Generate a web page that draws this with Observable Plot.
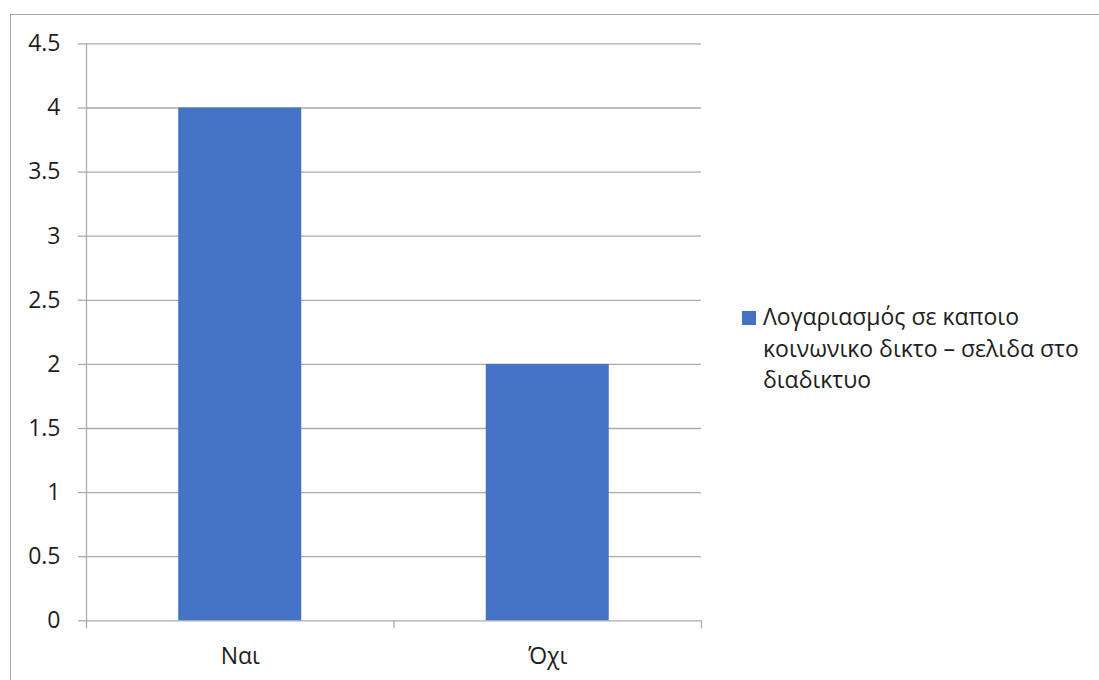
<!DOCTYPE html>
<html lang="el">
<head>
<meta charset="utf-8">
<script src="https://cdn.jsdelivr.net/npm/d3@7"></script>
<script src="https://cdn.jsdelivr.net/npm/@observablehq/plot@0.6"></script>
<style>
  html, body { margin: 0; padding: 0; background: #fff; }
  #frame {
    position: relative;
    width: 1099px;
    height: 680px;
    overflow: hidden;
    font-family: "Open Sans", "Noto Sans", sans-serif;
    color: #1e1e1e;
  }
  #border {
    position: absolute;
    left: 10px;
    top: 14px;
    width: 1300px;
    height: 900px;
    border: 1.5px solid #a9a9a9;
    box-sizing: border-box;
  }
  #chart { position: absolute; left: 0; top: 0; }
  #legend {
    position: absolute;
    left: 742px;
    top: 301px;
    width: 340px;
    font-size: 23px;
    line-height: 31.5px;
  }
  #legend .swatch {
    position: absolute;
    left: 0;
    top: 10px;
    width: 14px;
    height: 14px;
  }
  #legend .label { margin-left: 21px; }
</style>
</head>
<body>
<div id="frame">
  <div id="border"></div>
  <div id="chart"></div>
  <div id="legend"></div>
</div>
<script>
// Categories and their counts
const categories = ["Ναι", "Όχι"];
const values = [4, 2];
const seriesName = "Λογαριασμός σε καποιο κοινωνικο δικτο – σελιδα στο διαδικτυο";
const yTicks = [0, 0.5, 1, 1.5, 2, 2.5, 3, 3.5, 4, 4.5];
const yTickLabels = ["0", "0.5", "1", "1.5", "2", "2.5", "3", "3.5", "4", "4.5"];

const barColor = "#4472C4";
const gridColor = "#ababab";
const textColor = "#1e1e1e";
const barGap = 0.3; // share of each category slot left empty on either side of the bar

const rows = categories.map((category, i) => ({category, value: values[i], i}));

const chart = Plot.plot({
  width: 720,
  height: 680,
  marginLeft: 86,
  marginRight: 19,
  marginTop: 43.4,
  marginBottom: 59.7,
  style: {fontFamily: "'Open Sans', 'Noto Sans', sans-serif", fontSize: "23px", background: "transparent"},
  x: {domain: [0, categories.length], axis: null},
  y: {domain: [0, 4.5], axis: null},
  marks: [
    // horizontal gridlines
    Plot.ruleY(yTicks, {stroke: gridColor, strokeWidth: 1.3}),
    // bars
    Plot.rectY(rows, {
      x1: d => d.i + barGap,
      x2: d => d.i + 1 - barGap,
      y1: 0,
      y2: "value",
      fill: barColor,
      inset: 0
    }),
    // vertical axis line
    Plot.ruleX([0], {y1: 0, y2: 4.5, stroke: gridColor, strokeWidth: 1.3}),
    // y axis ticks and labels
    Plot.axisY(yTicks, {
      label: null,
      tickSize: 8,
      tickPadding: 18,
      stroke: gridColor,
      strokeWidth: 1.3,
      fill: textColor,
      fontSize: 23,
      tickFormat: d => yTickLabels[yTicks.indexOf(d)]
    }),
    // category separator ticks below the baseline
    Plot.axisX(d3.range(categories.length + 1), {
      label: null,
      tickSize: 8,
      stroke: gridColor,
      strokeWidth: 1.3,
      tickFormat: () => ""
    }),
    // category labels
    Plot.text(rows, {
      x: d => d.i + 0.5,
      y: 0,
      text: "category",
      dy: 36,
      lineAnchor: "middle",
      fill: textColor,
      fontSize: 23
    })
  ]
});
document.getElementById("chart").appendChild(chart);

// legend
const legend = document.getElementById("legend");
const swatch = document.createElement("div");
swatch.className = "swatch";
swatch.style.background = barColor;
const label = document.createElement("div");
label.className = "label";
label.textContent = seriesName;
legend.appendChild(swatch);
legend.appendChild(label);
</script>
</body>
</html>
